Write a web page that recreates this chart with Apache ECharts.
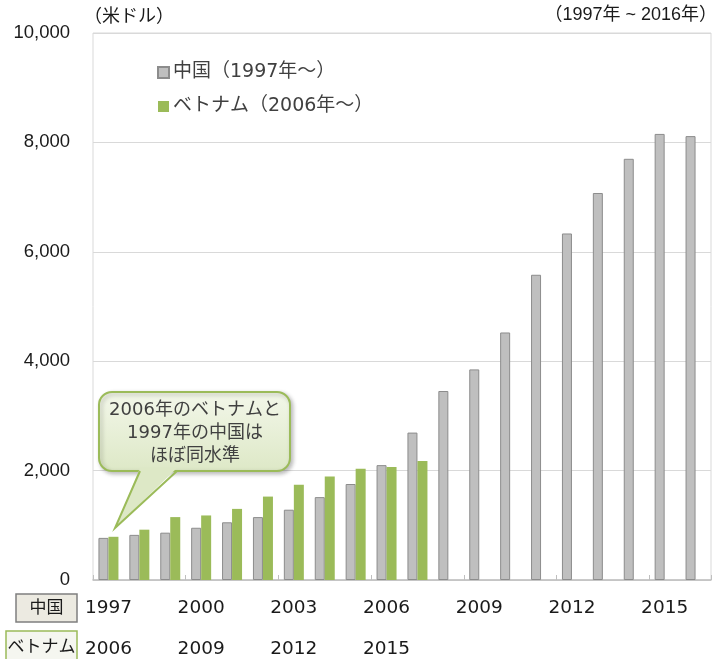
<!DOCTYPE html>
<html>
<head>
<meta charset="utf-8">
<script src="https://cdn.jsdelivr.net/npm/echarts@6/dist/echarts.min.js"></script>
<style>
html, body { margin: 0; padding: 0; background: #fff; }
#main { width: 718px; height: 659px; }
</style>
</head>
<body>
<div id="main"></div>
<script>
// データ ------------------
var chinaYears = ['1997','1998','1999','2000','2001','2002','2003','2004','2005','2006',
                  '2007','2008','2009','2010','2011','2012','2013','2014','2015','2016'];
var vietnamYears = ['2006','2007','2008','2009','2010','2011','2012','2013','2014','2015','2016'];
var chinaValues = [770, 825, 865, 955, 1055, 1150, 1285, 1515, 1755, 2100,
                   2695, 3455, 3850, 4525, 5580, 6335, 7075, 7700, 8155, 8115];
var vietnamValues = [790, 920, 1150, 1180, 1300, 1525, 1740, 1890, 2035, 2065, 2175];
var chinaName = '中国（1997年～）';
var vietnamName = 'ベトナム（2006年～）';

// ベトナム側の軸ラベル（中国の年に合わせて並べる）
var vietnamAxis = chinaYears.map(function (y, i) {
    return i < vietnamYears.length ? vietnamYears[i] : '';
});

var myChart = echarts.init(document.getElementById('main'));

var mixFont = '"DejaVu Sans", "Noto Sans CJK JP", sans-serif';

option = {
    animation: false,
    backgroundColor: '#fff',
    grid: {
        left: 93, right: 7, top: 33, bottom: 79,
        show: true,
        borderColor: '#d9d9d9',
        borderWidth: 1
    },
    legend: {
        orient: 'vertical',
        left: 152,
        top: 58,
        itemWidth: 11,
        itemHeight: 11,
        itemGap: 15,
        icon: 'rect',
        data: [chinaName, vietnamName],
        textStyle: { fontFamily: mixFont, fontSize: 19, color: '#404040', padding: [0, 0, 0, -1] }
    },
    xAxis: [
        {
            type: 'category',
            data: chinaYears,
            axisLine: { lineStyle: { color: '#bfbfbf', width: 1.5 } },
            axisTick: { show: true, interval: 2, inside: true, length: 5, lineStyle: { color: '#bfbfbf' } },
            axisLabel: { interval: 2, margin: 19, fontFamily: mixFont, fontSize: 18.5, color: '#1a1a1a' }
        },
        {
            type: 'category',
            position: 'bottom',
            offset: 41,
            data: vietnamAxis,
            axisLine: { show: false },
            axisTick: { show: false },
            axisLabel: { interval: 2, margin: 19, fontFamily: mixFont, fontSize: 18.5, color: '#1a1a1a' }
        }
    ],
    yAxis: {
        type: 'value',
        min: 0,
        max: 10000,
        interval: 2000,
        axisLine: { show: false },
        axisTick: { show: false },
        splitLine: { lineStyle: { color: '#d9d9d9' } },
        axisLabel: {
            margin: 23,
            fontFamily: '"Liberation Sans", Arial, sans-serif',
            fontSize: 18.5,
            color: '#1a1a1a',
            formatter: function (v) { return v.toLocaleString('en-US'); }
        }
    },
    series: [
        {
            name: chinaName,
            type: 'bar',
            xAxisIndex: 0,
            barWidth: 10,
            barGap: '0%',
            data: chinaValues,
            itemStyle: { color: '#bfbfbf', borderColor: '#8c8c8c', borderWidth: 1 }
        },
        {
            name: vietnamName,
            type: 'bar',
            xAxisIndex: 0,
            barWidth: 10,
            data: vietnamValues,
            itemStyle: { color: '#9bbb59' }
        }
    ],
    graphic: [
        {
            type: 'text', left: 84, top: 6,
            style: { text: '（米ドル）', font: '18px "Noto Sans CJK JP"', fill: '#1a1a1a' }
        },
        {
            type: 'text', right: 1, top: 6,
            style: { text: '（1997年 ~ 2016年）', font: '18px "Liberation Sans", "Noto Sans CJK JP"', fill: '#1a1a1a' }
        },
        // 吹き出し
        {
            type: 'rect', z: 100,
            shape: { x: 99, y: 392, width: 191, height: 79, r: 13 },
            style: {
                fill: {
                    type: 'linear', x: 0, y: 0, x2: 0, y2: 1,
                    colorStops: [
                        { offset: 0, color: '#f3f7ea' },
                        { offset: 1, color: '#dde8c6' }
                    ]
                },
                stroke: '#9bbb59',
                lineWidth: 2,
                shadowBlur: 4,
                shadowOffsetX: 2,
                shadowOffsetY: 2,
                shadowColor: 'rgba(0,0,0,0.25)'
            }
        },
        {
            type: 'polygon', z: 101,
            shape: { points: [[140, 468], [115, 528], [177, 468]] },
            style: { fill: '#dde8c6' }
        },
        {
            type: 'polyline', z: 101,
            shape: { points: [[140, 471], [115, 528], [177, 471]] },
            style: { stroke: '#9bbb59', lineWidth: 2, fill: null }
        },
        {
            type: 'text', x: 195, y: 399, z: 102,
            style: {
                text: '2006年のベトナムと\n1997年の中国は\nほぼ同水準',
                font: '18px "DejaVu Sans", "Noto Sans CJK JP"',
                lineHeight: 23,
                fill: '#404040',
                align: 'center'
            }
        },
        // 左下の凡例ボックス
        {
            type: 'rect', z: 100,
            shape: { x: 16, y: 594, width: 61, height: 28 },
            style: { fill: '#eceae1', stroke: '#7f7f7f', lineWidth: 1.5 }
        },
        {
            type: 'text', x: 46.5, y: 598, z: 101,
            style: { text: '中国', font: '17px "Noto Sans CJK JP"', fill: '#1a1a1a', align: 'center' }
        },
        {
            type: 'rect', z: 100,
            shape: { x: 6, y: 631, width: 71, height: 32 },
            style: { fill: '#f5f6f0', stroke: '#9bbb59', lineWidth: 1.5 }
        },
        {
            type: 'text', x: 41.5, y: 637, z: 101,
            style: { text: 'ベトナム', font: '17px "Noto Sans CJK JP"', fill: '#1a1a1a', align: 'center' }
        }
    ]
};

myChart.setOption(option);
</script>
</body>
</html>
